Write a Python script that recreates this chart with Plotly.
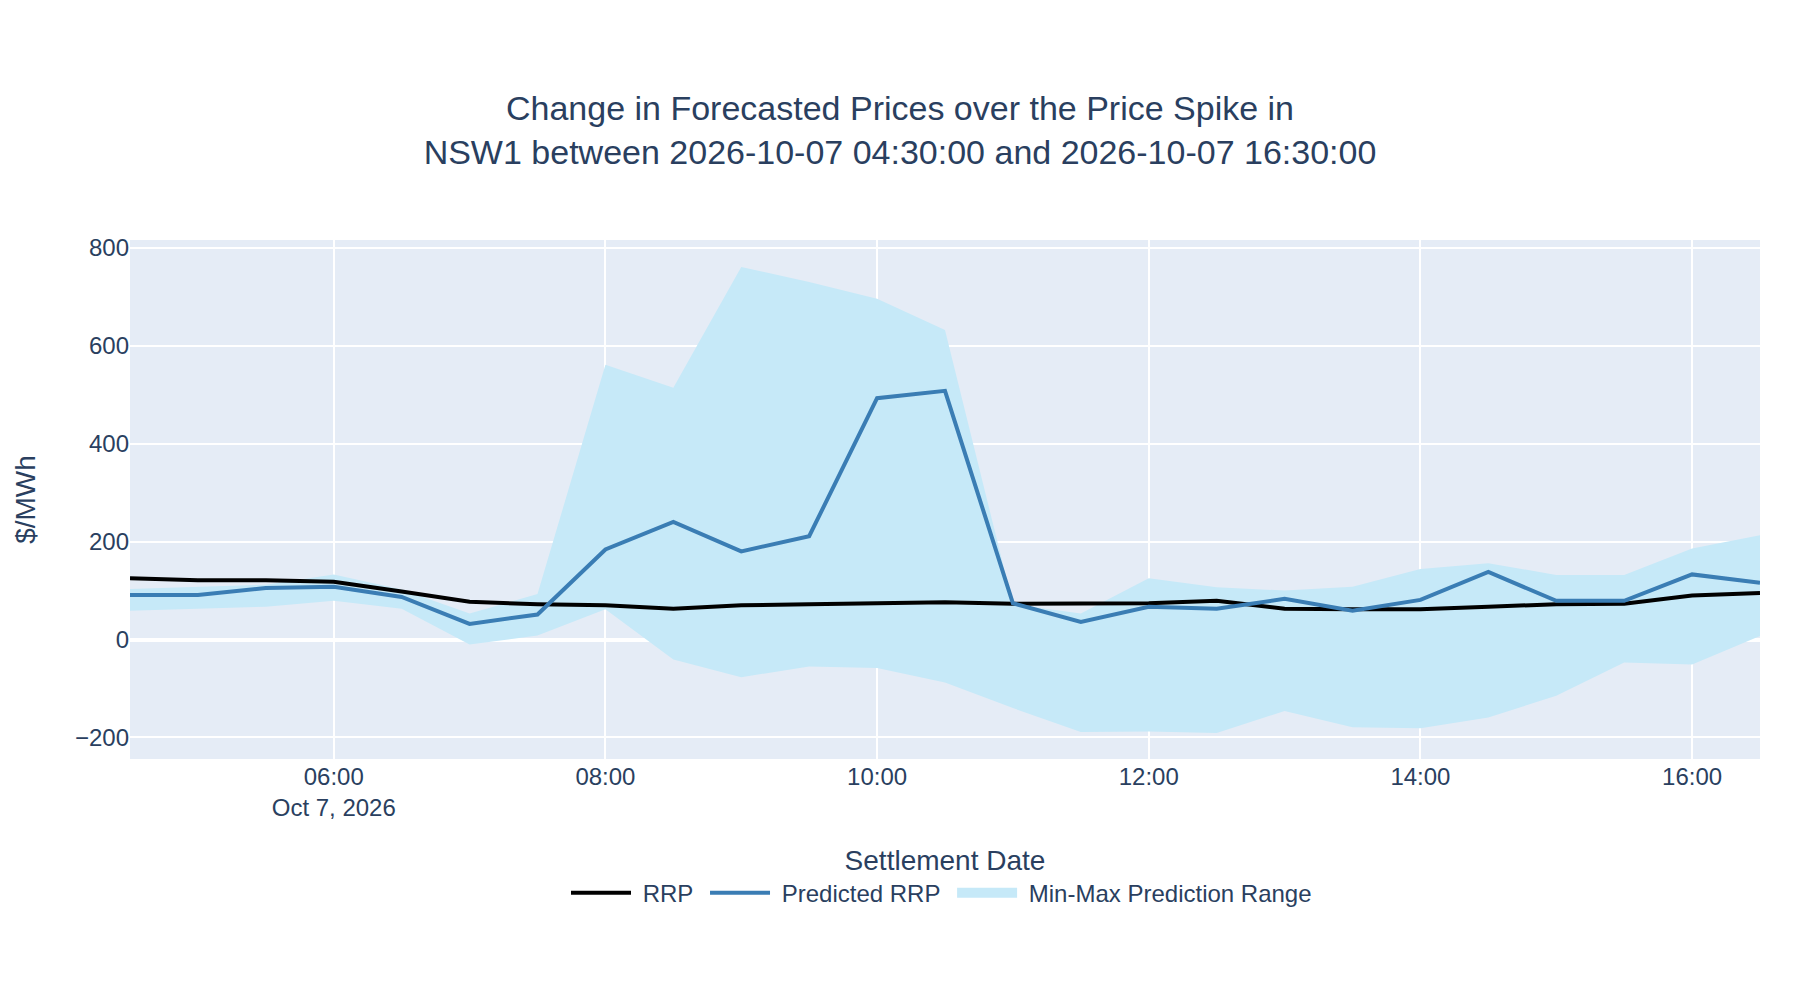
import plotly.graph_objects as go

times = [
    "2026-10-07 04:30:00", "2026-10-07 05:00:00", "2026-10-07 05:30:00", "2026-10-07 06:00:00",
    "2026-10-07 06:30:00", "2026-10-07 07:00:00", "2026-10-07 07:30:00", "2026-10-07 08:00:00",
    "2026-10-07 08:30:00", "2026-10-07 09:00:00", "2026-10-07 09:30:00", "2026-10-07 10:00:00",
    "2026-10-07 10:30:00", "2026-10-07 11:00:00", "2026-10-07 11:30:00", "2026-10-07 12:00:00",
    "2026-10-07 12:30:00", "2026-10-07 13:00:00", "2026-10-07 13:30:00", "2026-10-07 14:00:00",
    "2026-10-07 14:30:00", "2026-10-07 15:00:00", "2026-10-07 15:30:00", "2026-10-07 16:00:00",
    "2026-10-07 16:30:00",
]

rrp = [125, 121, 121, 118, 98, 77, 72, 70, 63, 70, 72, 74, 76, 73, 73, 74, 79, 63, 62, 62, 67, 72, 73, 90, 95]
predicted_rrp = [91, 91, 105, 108, 87, 32, 51, 184, 240, 180, 211, 493, 508, 74, 36, 67, 63, 83, 59, 81, 138, 79, 79, 133, 116]
pred_max = [103, 107, 112, 133, 102, 53, 93, 561, 514, 761, 730, 696, 632, 72, 53, 125, 107, 100, 108, 144, 156, 132, 132, 186, 213]
pred_min = [59, 63, 67, 79, 63, -10, 8, 62, -41, -77, -55, -58, -88, -140, -189, -188, -191, -146, -179, -181, -159, -115, -47, -51, 7]

FILL = "#c6e9f8"
FONT = "Liberation Sans, Arial, sans-serif"
NB = "\u00a0"

fig = go.Figure()
fig.add_trace(go.Scatter(x=times, y=pred_max, mode="lines", line=dict(width=0, color=FILL),
                         showlegend=False, hoverinfo="skip"))
fig.add_trace(go.Scatter(x=times, y=pred_min, mode="lines", line=dict(width=0, color=FILL),
                         fill="tonexty", fillcolor=FILL, name="Min-Max Prediction Range",
                         showlegend=False))
fig.add_trace(go.Scatter(x=times, y=rrp, mode="lines", line=dict(color="black", width=4),
                         name=NB + "RRP" + NB, legendrank=1))
fig.add_trace(go.Scatter(x=times, y=predicted_rrp, mode="lines", line=dict(color="#3a7db4", width=4),
                         name=NB + "Predicted RRP" + NB, legendrank=2))
# legend-only swatch for the range band
fig.add_trace(go.Scatter(x=[None], y=[None], mode="lines", line=dict(color=FILL, width=12),
                         name=NB + "Min-Max Prediction Range" + NB, legendrank=3, hoverinfo="skip"))

fig.update_layout(
    width=1800, height=1000,
    template="plotly",
    font=dict(family=FONT, size=24, color="#2a3f5f"),
    title=dict(
        text="Change in Forecasted Prices over the Price Spike in<br>NSW1 between 2026-10-07 04:30:00 and 2026-10-07 16:30:00",
        x=0.5, xanchor="center", xref="container",
        y=0.88, yanchor="middle", yref="container",
        font=dict(size=34),
    ),
    margin=dict(l=130, r=40, t=240, b=241),
    legend=dict(orientation="h", x=0.5, xanchor="center", y=-0.215, yanchor="top",
                font=dict(size=24), itemwidth=60, traceorder="normal"),
    xaxis=dict(
        title=dict(text="Settlement Date", font=dict(size=28), standoff=30),
        range=["2026-10-07 04:30:00", "2026-10-07 16:30:00"],
        gridwidth=2, gridcolor="white",
        ticklabelstandoff=1,
    ),
    yaxis=dict(
        title=dict(text="$/MWh", font=dict(size=28), standoff=31),
        range=[-244, 816],
        gridwidth=2, gridcolor="white",
        zerolinewidth=4, zerolinecolor="white",
        tickvals=[-200, 0, 200, 400, 600, 800],
    ),
)

fig.write_html("out.html")
